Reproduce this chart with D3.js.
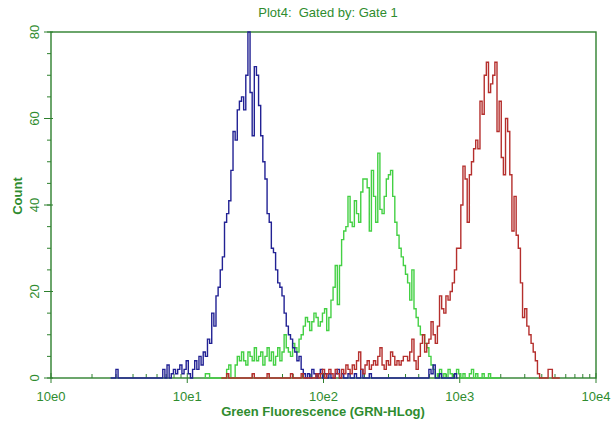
<!DOCTYPE html>
<html>
<head>
<meta charset="utf-8">
<script src="https://cdn.jsdelivr.net/npm/d3@7"></script>
<style>
    body { margin: 0; background: #fff; }
    text { font-family: "Liberation Sans", Arial, sans-serif; fill: #2f8c2f; }
</style>
</head>
<body>
<svg id="chart" width="613" height="425"></svg>
<script>
// histogram channels: 64 per decade on the log axis (10e0 .. 10e4)
var channelsPerDecade = 64;
var xTickLabels = ["10e0", "10e1", "10e2", "10e3", "10e4"];
var yTickValues = [0, 20, 40, 60, 80];

// blue series, first channel 28
var blueStart = 28;
var blueCounts = [
    0, 0, 0, 2,
    0, 0, 0, 0, 0, 0, 0, 0, 0, 0, 0, 0, 0, 0, 0, 0, 0, 0, 0, 0, 0,
    2, 0, 3, 0,
    1, 2, 1, 2, 3, 1, 2, 4, 1, 0,
    2, 4, 2, 5, 3, 6, 5, 9, 8, 15,
    12, 19, 21, 25, 28, 36, 38, 41, 48, 57,
    55, 62, 64, 65, 62, 70, 80, 66, 56, 72,
    70, 63, 56, 50, 46, 38, 36, 30, 29, 25,
    22, 21, 19, 15, 12, 10, 9, 7, 6, 4,
    5, 2, 1, 0, 1, 0, 2, 1, 0, 1,
    2, 0, 1, 0, 1, 0, 0, 1, 2, 0,
    1, 0, 0, 1, 0, 0, 1, 0, 0, 2,
    0, 0, 0, 1, 0,
    0, 0, 0, 0, 0, 0, 0, 0, 0, 0, 0, 0, 0, 0, 0, 0, 0, 0, 0, 0, 0, 0, 0, 0, 0, 0,
    2, 1, 3, 0, 0, 1, 0, 0, 0, 0, 0, 0, 1, 0
];

// green series, first channel 72
var greenStart = 72;
var greenCounts = [
    0, 1, 1, 0, 0, 0, 0, 0, 0, 0,
    0, 2, 3, 0, 0, 3, 5, 4, 6, 4,
    3, 6, 5, 4, 7, 4, 5, 6, 3, 5,
    7, 4, 6, 3, 5, 7, 4, 6, 10, 7,
    6, 5, 8, 7, 6, 9, 10, 12, 14, 13,
    11, 13, 15, 14, 12, 13, 15, 16, 11, 14,
    18, 21, 26, 17, 26, 32, 34, 35, 42, 36,
    35, 41, 38, 36, 43, 46, 46, 44, 34, 48,
    42, 36, 52, 39, 38, 42, 46, 47, 48, 42,
    36, 33, 30, 28, 26, 24, 22, 18, 25, 16,
    14, 12, 10, 10, 8, 7, 5, 3, 2, 0,
    1, 2, 0, 1, 0, 2, 1, 0, 1, 2,
    1, 0, 1, 0, 0, 1, 2, 0, 1, 0,
    0, 1, 0, 0, 1, 0, 0, 0, 0, 0
];

// red series, first channel 80
var redStart = 80;
var redCounts = [
    0, 0, 0, 1, 0, 0, 0, 0, 0, 0,
    0, 0, 0, 0, 0, 1, 0, 0, 0, 0,
    0, 0, 1, 0, 0, 0, 0, 0, 0, 0,
    0, 0, 0, 1, 0, 0, 0, 0, 1, 0,
    0, 0, 0, 0, 0, 1, 0, 1, 2, 0,
    1, 2, 1, 0, 2, 1, 0, 2, 1, 3,
    2, 1, 3, 2, 4, 6, 2, 1, 3, 4,
    2, 3, 4, 3, 5, 7, 3, 2, 4, 3,
    6, 5, 3, 4, 3, 4, 5, 5, 4, 6,
    9, 4, 2, 5, 8, 10, 6, 8, 9, 13,
    10, 8, 12, 19, 16, 15, 19, 18, 20, 22,
    25, 30, 30, 40, 49, 46, 36, 47, 50, 53,
    55, 53, 64, 61, 70, 73, 66, 68, 70, 73,
    57, 64, 51, 47, 60, 57, 47, 34, 42, 33,
    30, 22, 14, 16, 12, 10, 8, 6, 4, 1,
    0, 0, 0, 0, 2, 2, 0, 0, 0, 0
];

var axisColor = "#2e802e";

var margin = { top: 32, right: 17, bottom: 47, left: 51 },
    width = 613 - margin.left - margin.right,
    height = 425 - margin.top - margin.bottom;

var x = d3.scaleLog().domain([1, 1e4]).range([0, width]);
var y = d3.scaleLinear().domain([0, 80]).range([height, 0]);

var svg = d3.select("#chart");

svg.append("text")
    .attr("x", 328)
    .attr("y", 17)
    .attr("text-anchor", "middle")
    .style("font-size", "13px")
    .style("white-space", "pre")
    .text("Plot4:  Gated by: Gate 1");

var g = svg.append("g")
    .attr("transform", "translate(" + margin.left + "," + margin.top + ")");

function toPoints(start, counts) {
    return counts.map(function(c, i) {
        return { ch: start + i, count: c };
    });
}

var line = d3.line()
    .x(function(d) { return x(Math.pow(10, d.ch / channelsPerDecade)); })
    .y(function(d) { return y(d.count); })
    .curve(d3.curveStep);

var series = [
    { color: "#44d044", points: toPoints(greenStart, greenCounts) },
    { color: "#222294", points: toPoints(blueStart, blueCounts) },
    { color: "#b52f2d", points: toPoints(redStart, redCounts) }
];

// frame
g.append("rect")
    .attr("width", width)
    .attr("height", height)
    .attr("fill", "none")
    .attr("stroke", axisColor)
    .attr("stroke-width", 1.4);

// x ticks: log minors upward, decades through the axis
var xMinor = [];
for (var d = 0; d < 4; d++) {
    for (var k = 2; k <= 9; k++) xMinor.push(k * Math.pow(10, d));
}
g.selectAll(".xminor")
    .data(xMinor)
    .enter().append("line")
    .attr("x1", function(v) { return x(v); })
    .attr("x2", function(v) { return x(v); })
    .attr("y1", height)
    .attr("y2", height - 4)
    .attr("stroke", axisColor);

g.selectAll(".xmajor")
    .data(xTickLabels)
    .enter().append("line")
    .attr("x1", function(t, i) { return x(Math.pow(10, i)); })
    .attr("x2", function(t, i) { return x(Math.pow(10, i)); })
    .attr("y1", height - 5)
    .attr("y2", height + 5)
    .attr("stroke", axisColor);

g.selectAll(".xlabel")
    .data(xTickLabels)
    .enter().append("text")
    .attr("x", function(t, i) { return x(Math.pow(10, i)); })
    .attr("y", height + 23)
    .attr("text-anchor", "middle")
    .style("font-size", "13px")
    .text(function(t) { return t; });

// y ticks
g.selectAll(".yminor")
    .data(d3.range(0, 81, 5))
    .enter().append("line")
    .attr("x1", -4)
    .attr("x2", 0)
    .attr("y1", function(v) { return y(v); })
    .attr("y2", function(v) { return y(v); })
    .attr("stroke", axisColor);

g.selectAll(".ymajor")
    .data(yTickValues)
    .enter().append("line")
    .attr("x1", -7)
    .attr("x2", 2)
    .attr("y1", function(v) { return y(v); })
    .attr("y2", function(v) { return y(v); })
    .attr("stroke", axisColor);

g.selectAll(".ylabel")
    .data(yTickValues)
    .enter().append("text")
    .attr("transform", function(v) { return "translate(-12," + y(v) + ") rotate(-90)"; })
    .attr("text-anchor", "middle")
    .style("font-size", "13px")
    .text(function(v) { return v; });

// histogram traces
g.selectAll(".trace")
    .data(series)
    .enter().append("path")
    .attr("d", function(s) { return line(s.points); })
    .attr("fill", "none")
    .attr("stroke", function(s) { return s.color; })
    .attr("stroke-width", 1.4);

// axis titles
svg.append("text")
    .attr("x", 323)
    .attr("y", 416)
    .attr("text-anchor", "middle")
    .style("font-size", "13px")
    .style("font-weight", "bold")
    .text("Green Fluorescence (GRN-HLog)");

svg.append("text")
    .attr("transform", "translate(22,196) rotate(-90)")
    .attr("text-anchor", "middle")
    .style("font-size", "13px")
    .style("font-weight", "bold")
    .text("Count");
</script>
</body>
</html>
